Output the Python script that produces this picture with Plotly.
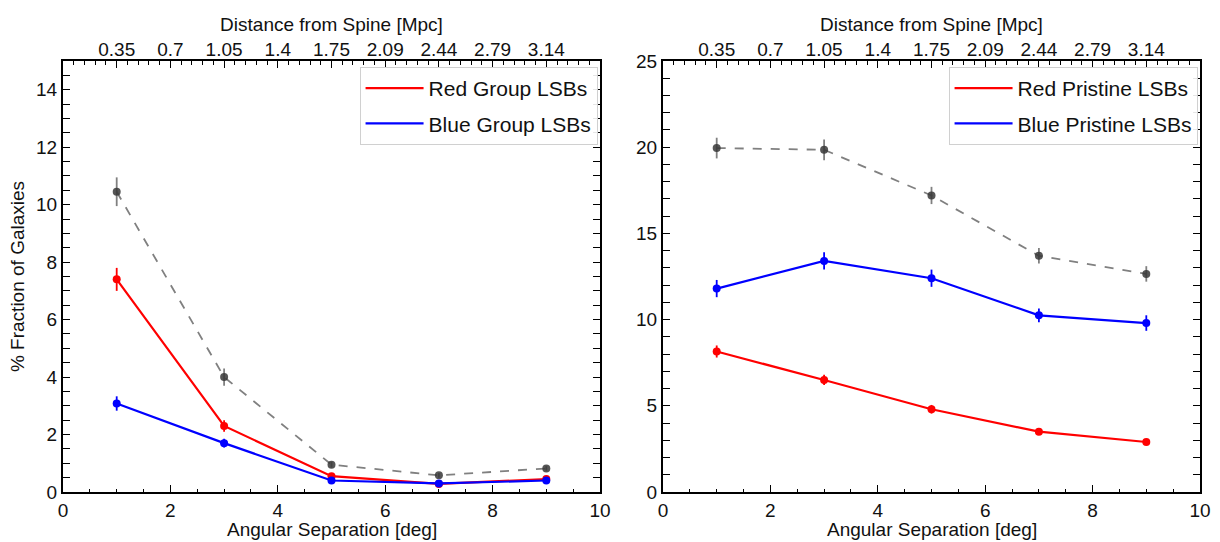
import plotly.graph_objects as go

# ---- data ----
ang_sep = [1, 3, 5, 7, 9]

grp_total = [10.45, 4.0, 0.95, 0.58, 0.82]
grp_total_err = [0.5, 0.3, 0.1, 0.08, 0.08]
grp_red = [7.4, 2.3, 0.55, 0.28, 0.45]
grp_red_err = [0.4, 0.2, 0.1, 0.06, 0.08]
grp_blue = [3.08, 1.7, 0.4, 0.3, 0.4]
grp_blue_err = [0.25, 0.15, 0.08, 0.06, 0.08]

pri_total = [19.95, 19.85, 17.2, 13.7, 12.65]
pri_total_err = [0.6, 0.6, 0.5, 0.45, 0.45]
pri_red = [8.15, 6.5, 4.8, 3.5, 2.9]
pri_red_err = [0.35, 0.3, 0.25, 0.15, 0.1]
pri_blue = [11.8, 13.4, 12.4, 10.25, 9.8]
pri_blue_err = [0.5, 0.5, 0.5, 0.4, 0.45]

top_positions = [1, 2, 3, 4, 5, 6, 7, 8, 9]
top_labels = ["0.35", "0.7", "1.05", "1.4", "1.75", "2.09", "2.44", "2.79", "3.14"]

RED = "#ff0000"
BLUE = "#0000ff"
GRAY = "#808080"
DARK = "rgba(55,55,55,0.85)"
FONT = "Liberation Sans, Arial, sans-serif"

fig = go.Figure()


def add_series(xa, ya, y, err, color, name, legend, dashed=False, mcolor=None):
    mcolor = mcolor or color
    fig.add_trace(go.Scatter(
        x=ang_sep, y=y, mode="lines", xaxis=xa, yaxis=ya,
        line=dict(color=color, width=2.2 if not dashed else 1.8,
                  dash="dash" if dashed else "solid"),
        name=name or "", showlegend=bool(name), legend=legend,
        legendgroup=name or None, hoverinfo="skip"))
    fig.add_trace(go.Scatter(
        x=ang_sep, y=y, mode="markers", xaxis=xa, yaxis=ya,
        marker=dict(color=mcolor, size=8),
        error_y=dict(type="data", array=err, color=mcolor if not dashed else GRAY,
                     thickness=1.8, width=0),
        showlegend=False, hoverinfo="skip"))


# left panel
add_series("x", "y", grp_total, grp_total_err, GRAY, None, "legend", dashed=True, mcolor=DARK)
add_series("x", "y", grp_red, grp_red_err, RED, "Red Group LSBs", "legend")
add_series("x", "y", grp_blue, grp_blue_err, BLUE, "Blue Group LSBs", "legend")
# right panel
add_series("x2", "y2", pri_total, pri_total_err, GRAY, None, "legend2", dashed=True, mcolor=DARK)
add_series("x2", "y2", pri_red, pri_red_err, RED, "Red Pristine LSBs", "legend2")
add_series("x2", "y2", pri_blue, pri_blue_err, BLUE, "Blue Pristine LSBs", "legend2")

# invisible traces for top axes
fig.add_trace(go.Scatter(x=top_positions, y=[None] * len(top_positions), xaxis="x3", yaxis="y",
                         showlegend=False, hoverinfo="skip", mode="markers"))
fig.add_trace(go.Scatter(x=top_positions, y=[None] * len(top_positions), xaxis="x4", yaxis="y2",
                         showlegend=False, hoverinfo="skip", mode="markers"))

dom1 = [63 / 1220, 600 / 1220]
dom2 = [663 / 1220, 1200 / 1220]
ydom = [(542 - 492) / 542, (542 - 61) / 542]

tickfont = dict(family=FONT, size=19, color="#111111")
titlefont = dict(family=FONT, size=19, color="#111111")


def xbottom(domain, anchor):
    return dict(domain=domain, anchor=anchor, range=[0, 10], dtick=2, tick0=0,
                ticks="inside", ticklen=7, tickwidth=1.2, tickcolor="black",
                minor=dict(dtick=0.5, ticks="inside", ticklen=3.5, tickcolor="black", tickwidth=1),
                showline=True, linecolor="black", linewidth=2, mirror=True,
                showgrid=False, zeroline=False, tickfont=tickfont, automargin=False)


def xtop(domain, overlay, anchor):
    return dict(domain=domain, anchor=anchor, overlaying=overlay, side="top", range=[0, 10],
                tickmode="array", tickvals=top_positions, ticktext=top_labels,
                ticks="inside", ticklen=7, tickwidth=1.2, tickcolor="black",
                minor=dict(dtick=0.2, tick0=0, ticks="inside", ticklen=3.5, tickcolor="black", tickwidth=1),
                showline=False, showgrid=False, zeroline=False, tickfont=tickfont, automargin=False,
                title=dict(text="Distance from Spine [Mpc]", font=titlefont, standoff=2))


def yaxis(anchor, rng, dtick, mdtick, title=None):
    d = dict(domain=ydom, anchor=anchor, range=rng, dtick=dtick, tick0=0,
             ticks="inside", ticklen=7, tickwidth=1.2, tickcolor="black",
             minor=dict(dtick=mdtick, ticks="inside", ticklen=3.5, tickcolor="black", tickwidth=1),
             showline=True, linecolor="black", linewidth=2, mirror="allticks",
             showgrid=False, zeroline=False, tickfont=tickfont, automargin=False)
    if title:
        d["title"] = dict(text=title, font=titlefont, standoff=6)
    return d


legend_common = dict(bgcolor="rgba(255,255,255,0.9)", bordercolor="#d0d0d0", borderwidth=1,
                     font=dict(family=FONT, size=21, color="#111111"),
                     xanchor="right", yanchor="top", itemwidth=58, tracegroupgap=5)

xtitle_annots = [
    dict(text="Angular Separation [deg]", xref="paper", yref="paper",
         x=(d[0] + d[1]) / 2, y=(542 - 541) / 542, xanchor="center", yanchor="bottom",
         showarrow=False, font=titlefont, borderpad=0)
    for d in (dom1, dom2)
]

fig.update_layout(
    width=1220, height=542, margin=dict(l=0, r=0, t=0, b=0),
    paper_bgcolor="white", plot_bgcolor="white", showlegend=True,
    font=dict(family=FONT, color="black"),
    xaxis=xbottom(dom1, "y"),
    xaxis2=xbottom(dom2, "y2"),
    xaxis3=xtop(dom1, "x", "y"),
    xaxis4=xtop(dom2, "x2", "y2"),
    yaxis=yaxis("x", [0, 15], 2, 0.5, "% Fraction of Galaxies"),
    yaxis2=yaxis("x2", [0, 25], 5, 1),
    legend=dict(x=dom1[1] - 0.002, y=ydom[1] - 0.011, **legend_common),
    legend2=dict(x=dom2[1] - 0.002, y=ydom[1] - 0.011, **legend_common),
    annotations=xtitle_annots,
)

fig.write_html("out.html")
